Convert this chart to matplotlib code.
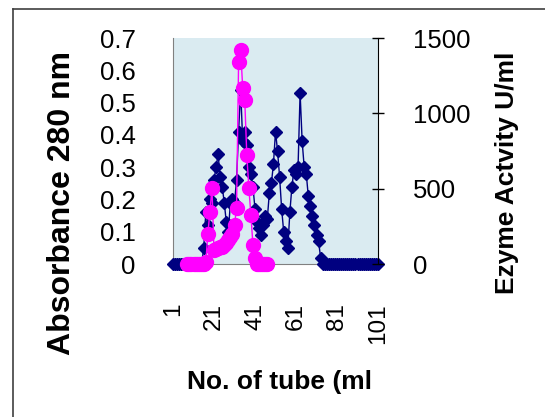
import matplotlib
matplotlib.use("Agg")
import matplotlib.pyplot as plt
from matplotlib.lines import Line2D

plt.rcParams["font.family"] = ["Liberation Sans", "DejaVu Sans"]

# tube numbers 1..101
tubes = list(range(1, 102))

# Absorbance at 280 nm (navy diamonds), tubes 1..101
absorbance = (
    [0.0] * 15
    + [0.05, 0.16, 0.12, 0.20, 0.19, 0.26, 0.30, 0.34, 0.27, 0.24,
       0.19, 0.13, 0.10, 0.19, 0.20, 0.19, 0.26, 0.41, 0.54, 0.38,
       0.41, 0.37, 0.30, 0.28, 0.24, 0.17, 0.13, 0.11, 0.09, 0.12,
       0.15, 0.14, 0.22, 0.25, 0.31, 0.41, 0.35, 0.27, 0.17, 0.10,
       0.07, 0.05, 0.16, 0.24, 0.29, 0.28, 0.30, 0.53, 0.38, 0.30,
       0.28, 0.21, 0.18, 0.15, 0.12, 0.09, 0.07, 0.02]
    + [0.0] * 28
)

# Enzyme activity U/ml (magenta circles), tubes 8..47
act_tubes = list(range(8, 48))
activity = [0, 0, 0, 0, 0, 0, 0, 0, 0, 10,
            200, 345, 505, 90, 100, 105, 110, 115, 125, 140,
            160, 180, 200, 260, 370, 1343, 1421, 1169, 1089, 724,
            505, 325, 126, 40, 0, 0, 0, 0, 0, 0]

xticks = [1, 21, 41, 61, 81, 101]

fig = plt.figure(figsize=(5.45, 4.17), dpi=100)
ax = fig.add_axes([173 / 545, 1 - 264 / 417, 205 / 545, 226 / 417])
ax.set_facecolor("#DAEBF1")

ax.plot(tubes, absorbance, color="#000080", lw=1, marker="D", ms=6.5,
        clip_on=False, zorder=3)
ax.set_xlim(1, 101)
ax.set_ylim(0, 0.7)
ax.set_yticks([0, 0.1, 0.2, 0.3, 0.4, 0.5, 0.6, 0.7])
ax.set_yticklabels(["0", "0.1", "0.2", "0.3", "0.4", "0.5", "0.6", "0.7"])
ax.set_xticks(xticks)
ax.set_xticklabels([str(t) for t in xticks], rotation=90)
ax.tick_params(axis="y", length=0, pad=27, labelsize=18.5)
ax.tick_params(axis="x", length=0, pad=28, labelsize=17.5)
for s in ["top", "right"]:
    ax.spines[s].set_visible(False)
ax.spines["left"].set_color("#808080")
ax.spines["bottom"].set_color("#808080")
ax.set_ylabel("Absorbance 280 nm", fontsize=23, fontweight="bold")
ax.yaxis.set_label_coords(-0.47, 0.27)
ax.set_xlabel("No. of tube (ml", fontsize=19, fontweight="bold")
ax.xaxis.set_label_coords(0.52, -0.47)

ax2 = ax.twinx()
ax2.plot(act_tubes, activity, color="#FF00FF", lw=1, marker="o", ms=10,
         clip_on=False, zorder=4)
ax2.set_ylim(0, 1500)
ax2.set_yticks([0, 500, 1000, 1500])
ax2.tick_params(axis="y", direction="inout", length=9, width=1, color="black",
                pad=21, labelsize=18.5)
for s in ["top", "left", "bottom"]:
    ax2.spines[s].set_visible(False)
ax2.spines["right"].set_color("black")
ax2.set_ylabel("Ezyme Actvity U/ml", fontsize=19, fontweight="bold")
ax2.yaxis.set_label_coords(1.57, 0.403)

# outer chart frame
fig.add_artist(Line2D([12.5 / 545, 12.5 / 545], [0, 1 - 9 / 417],
                      transform=fig.transFigure, color="#404040", lw=1.2))
fig.add_artist(Line2D([12.5 / 545, 1], [1 - 9 / 417, 1 - 9 / 417],
                      transform=fig.transFigure, color="#404040", lw=1.2))

fig.savefig("out.png", dpi=100)
